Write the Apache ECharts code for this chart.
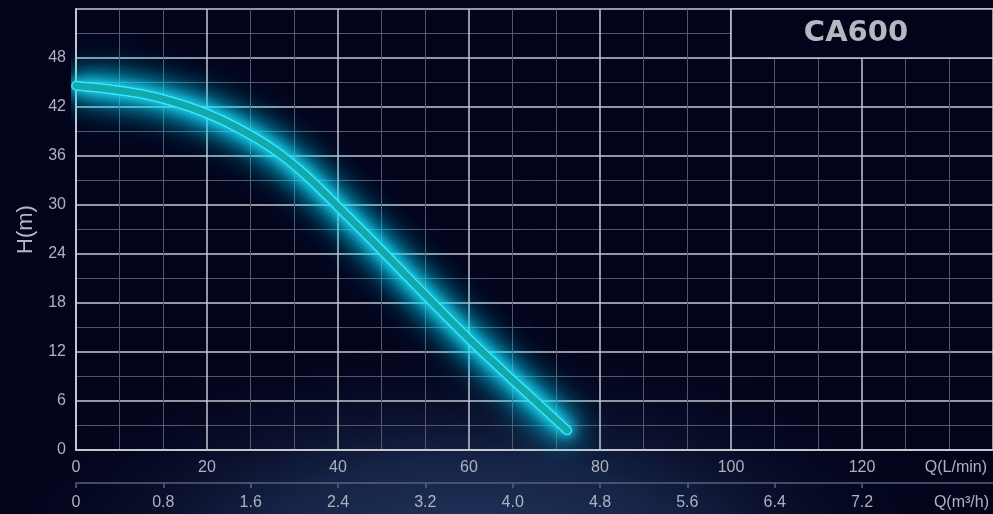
<!DOCTYPE html>
<html>
<head>
<meta charset="utf-8">
<script src="https://cdn.jsdelivr.net/npm/echarts@6/dist/echarts.min.js"></script>
<style>
html,body{margin:0;padding:0;background:#03041c;}
#chart{width:993px;height:514px;}
</style>
</head>
<body>
<div id="chart"></div>
<script>
const titleText = 'CA600';
const flowLpm = [0, 5, 10, 15, 20, 25, 30, 35, 40, 45, 50, 55, 60, 65, 70, 75];
const headM = [44.6, 44.2, 43.6, 42.6, 41.2, 39.3, 36.9, 33.7, 29.8, 25.8, 21.7, 17.6, 13.6, 9.8, 6.1, 2.4];
const lpmTicks = [0, 20, 40, 60, 80, 100, 120];
const m3hTicks = [0, 0.8, 1.6, 2.4, 3.2, 4.0, 4.8, 5.6, 6.4, 7.2];
const xNameLpm = 'Q(L/min)';
const xNameM3h = 'Q(m³/h)';
const yName = 'H(m)';

const points = flowLpm.map((x, i) => [x, headM[i]]);

const chart = echarts.init(document.getElementById('chart'));
const majorColor = '#c6c6ce';
const minorColor = '#55566a';
const labelColor = '#aeb2be';
const fontFamily = '"Liberation Sans", Arial, sans-serif';

function curve(z, lineStyle, extra) {
  return Object.assign({
    type: 'line', xAxisIndex: 0, smooth: 0.35, symbol: 'none', clip: false,
    data: points, silent: true, z: z,
    lineStyle: Object.assign({ cap: 'round', join: 'round' }, lineStyle)
  }, extra || {});
}

const glow = (z, width, blur, color) =>
  curve(z, { width: width, color: color, shadowBlur: blur, shadowColor: color });

chart.setOption({
  backgroundColor: '#03041c',
  animation: false,
  graphic: [
    {
      type: 'circle', z: -10, silent: true,
      shape: { cx: 470, cy: 560, r: 230 },
      scaleX: 2.2, scaleY: 1, originX: 470, originY: 560,
      style: {
        fill: {
          type: 'radial', x: 0.5, y: 0.5, r: 0.5,
          colorStops: [
            { offset: 0, color: 'rgba(38,62,104,0.95)' },
            { offset: 0.45, color: 'rgba(28,46,84,0.72)' },
            { offset: 1, color: 'rgba(3,4,28,0)' }
          ]
        }
      }
    }
  ],
  grid: { left: 76, right: 0, top: 9, bottom: 64 },
  xAxis: [
    {
      type: 'value', min: 0, max: 140, interval: 20,
      position: 'bottom',
      axisLine: { show: true, lineStyle: { color: majorColor, width: 2 } },
      axisTick: { show: false },
      axisLabel: { color: labelColor, fontSize: 16, fontFamily, margin: 10, customValues: lpmTicks },
      splitLine: { show: true, lineStyle: { color: majorColor, width: 1.5 } },
      minorTick: { show: false, splitNumber: 3 },
      minorSplitLine: { show: true, lineStyle: { color: minorColor, width: 1 } },
      name: xNameLpm, nameLocation: 'end', nameGap: 0,
      nameTextStyle: { color: labelColor, fontSize: 16, fontFamily, align: 'right', verticalAlign: 'top', padding: [10, 6, 0, 0] }
    },
    {
      type: 'value', min: 0, max: 8.4, interval: 0.8,
      position: 'bottom', offset: 33,
      axisLine: { show: true, lineStyle: { color: '#56627e', width: 1.5 } },
      axisTick: { show: true, length: 5, customValues: m3hTicks, lineStyle: { color: '#56627e', width: 1.5 } },
      axisLabel: {
        color: labelColor, fontSize: 16, fontFamily, margin: 12, customValues: m3hTicks,
        formatter: v => (v === 0 ? '0' : v.toFixed(1))
      },
      splitLine: { show: false },
      name: xNameM3h, nameLocation: 'end', nameGap: 0,
      nameTextStyle: { color: labelColor, fontSize: 16, fontFamily, align: 'right', verticalAlign: 'top', padding: [12, 4, 0, 0] }
    }
  ],
  yAxis: {
    type: 'value', min: 0, max: 54, interval: 6,
    axisLine: { show: true, lineStyle: { color: majorColor, width: 2 } },
    axisTick: { show: false },
    axisLabel: { color: labelColor, fontSize: 16, fontFamily, margin: 10, showMaxLabel: false },
    splitLine: { show: true, lineStyle: { color: majorColor, width: 1.5 } },
    minorTick: { show: false, splitNumber: 2 },
    minorSplitLine: { show: true, lineStyle: { color: minorColor, width: 1 } },
    name: yName, nameLocation: 'middle', nameGap: 38,
    nameTextStyle: { color: '#b4b8c4', fontSize: 22, fontFamily }
  },
  series: [
    glow(2, 9, 46, 'rgba(0,205,255,1)'),
    glow(3, 9, 34, 'rgba(0,212,255,1)'),
    glow(4, 9, 28, 'rgba(0,218,255,1)'),
    glow(5, 9, 20, 'rgba(20,225,255,1)'),
    glow(6, 9, 12, 'rgba(50,232,255,1)'),
    curve(7, { width: 7, color: '#12a8ac', shadowBlur: 3, shadowColor: 'rgba(80,240,255,0.9)' }, {
      markArea: {
        silent: true,
        itemStyle: { color: '#03041c', borderColor: majorColor, borderWidth: 1.5 },
        label: {
          show: true, position: 'inside', formatter: '{b}',
          color: '#b7b7c0', fontSize: 29, fontWeight: 'bold', fontFamily: '"DejaVu Sans", sans-serif',
          offset: [-6, 0]
        },
        data: [[{ name: titleText, xAxis: 100, yAxis: 54 }, { xAxis: 140, yAxis: 48 }]]
      }
    })
  ]
});
</script>
</body>
</html>
